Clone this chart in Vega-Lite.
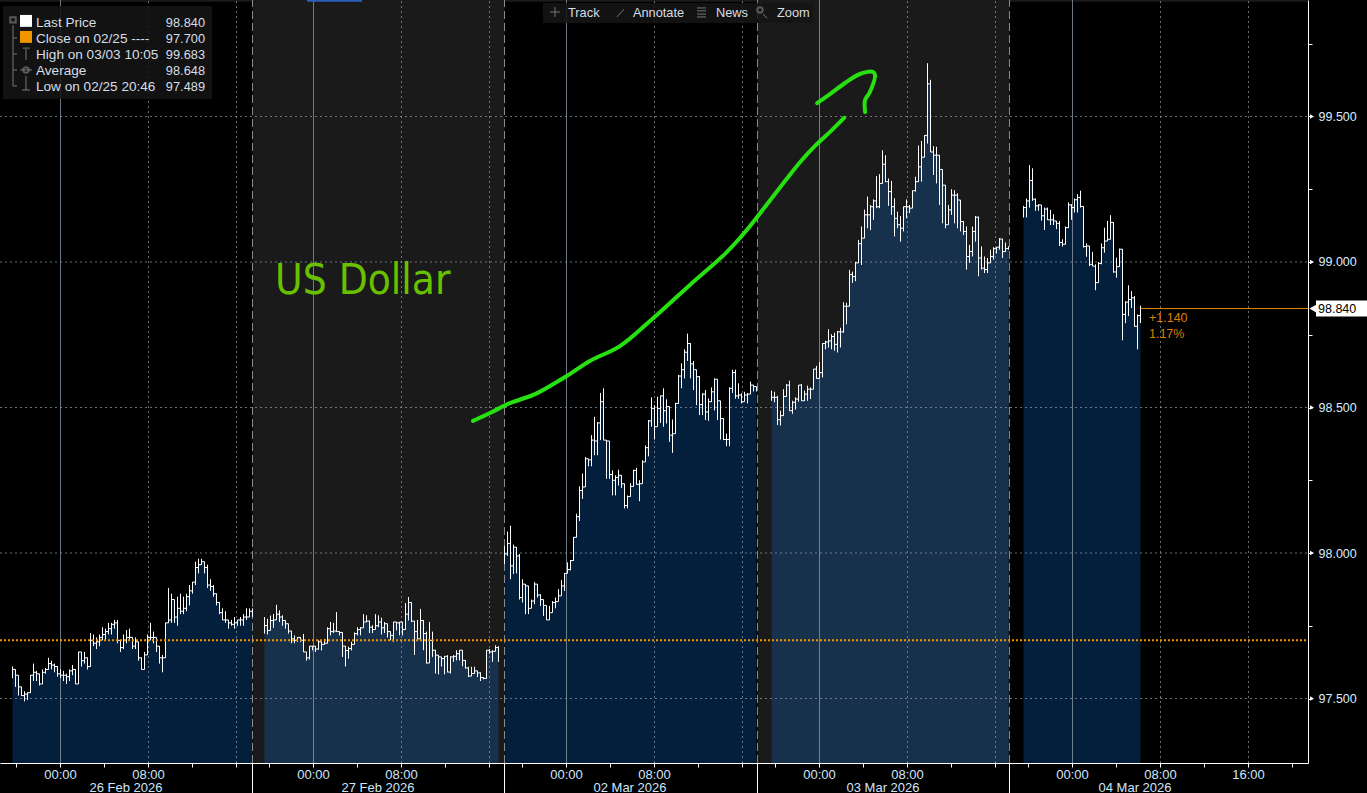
{"$schema":"https://vega.github.io/schema/vega-lite/v6.json","width":1308,"height":763,"autosize":{"type":"none"},"padding":{"left":0,"top":0,"right":59,"bottom":30},"background":"#000000","config":{"view":{"stroke":null},"text":{"font":"Liberation Sans","fontSize":12.5,"baseline":"middle"}},
"datasets":{"bars":[
{"k":-16,"hi":97.61,"lo":97.57,"p":97.6,"s":"a"},{"k":-15,"hi":97.58,"lo":97.54,"p":97.58,"s":"a"},{"k":-14,"hi":97.56,"lo":97.51,"p":97.54,"s":"a"},{"k":-13,"hi":97.53,"lo":97.51,"p":97.51,"s":"a"},{"k":-12,"hi":97.525,"lo":97.49,"p":97.515,"s":"a"},{"k":-11,"hi":97.52,"lo":97.495,"p":97.52,"s":"a"},{"k":-10,"hi":97.58,"lo":97.52,"p":97.58,"s":"a"},{"k":-9,"hi":97.62,"lo":97.56,"p":97.59,"s":"a"},{"k":-8,"hi":97.595,"lo":97.56,"p":97.585,"s":"a"},{"k":-7,"hi":97.58,"lo":97.545,"p":97.55,"s":"a"},{"k":-6,"hi":97.6,"lo":97.55,"p":97.59,"s":"a"},{"k":-5,"hi":97.605,"lo":97.585,"p":97.6,"s":"a"},{"k":-4,"hi":97.64,"lo":97.6,"p":97.62,"s":"a"},{"k":-3,"hi":97.63,"lo":97.6,"p":97.615,"s":"a"},{"k":-2,"hi":97.62,"lo":97.59,"p":97.61,"s":"a"},{"k":-1,"hi":97.61,"lo":97.575,"p":97.585,"s":"a"},{"k":0,"hi":97.6,"lo":97.57,"p":97.58,"s":"a"},{"k":1,"hi":97.595,"lo":97.56,"p":97.58,"s":"a"},{"k":2,"hi":97.585,"lo":97.55,"p":97.575,"s":"a"},{"k":3,"hi":97.6,"lo":97.56,"p":97.595,"s":"a"},{"k":4,"hi":97.615,"lo":97.58,"p":97.6,"s":"a"},{"k":5,"hi":97.6,"lo":97.55,"p":97.55,"s":"a"},{"k":6,"hi":97.66,"lo":97.55,"p":97.66,"s":"a"},{"k":7,"hi":97.655,"lo":97.61,"p":97.63,"s":"a"},{"k":8,"hi":97.66,"lo":97.62,"p":97.64,"s":"a"},{"k":9,"hi":97.64,"lo":97.6,"p":97.61,"s":"a"},{"k":10,"hi":97.725,"lo":97.61,"p":97.7,"s":"a"},{"k":11,"hi":97.72,"lo":97.68,"p":97.69,"s":"a"},{"k":12,"hi":97.71,"lo":97.67,"p":97.695,"s":"a"},{"k":13,"hi":97.72,"lo":97.68,"p":97.71,"s":"a"},{"k":14,"hi":97.745,"lo":97.7,"p":97.72,"s":"a"},{"k":15,"hi":97.74,"lo":97.7,"p":97.73,"s":"a"},{"k":16,"hi":97.76,"lo":97.72,"p":97.74,"s":"a"},{"k":17,"hi":97.76,"lo":97.72,"p":97.755,"s":"a"},{"k":18,"hi":97.77,"lo":97.74,"p":97.76,"s":"a"},{"k":19,"hi":97.77,"lo":97.69,"p":97.7,"s":"a"},{"k":20,"hi":97.69,"lo":97.66,"p":97.675,"s":"a"},{"k":21,"hi":97.72,"lo":97.67,"p":97.7,"s":"a"},{"k":22,"hi":97.735,"lo":97.69,"p":97.71,"s":"a"},{"k":23,"hi":97.74,"lo":97.7,"p":97.71,"s":"a"},{"k":24,"hi":97.71,"lo":97.67,"p":97.68,"s":"a"},{"k":25,"hi":97.71,"lo":97.67,"p":97.695,"s":"a"},{"k":26,"hi":97.69,"lo":97.63,"p":97.64,"s":"a"},{"k":27,"hi":97.64,"lo":97.6,"p":97.6,"s":"a"},{"k":28,"hi":97.66,"lo":97.61,"p":97.65,"s":"a"},{"k":29,"hi":97.72,"lo":97.65,"p":97.71,"s":"a"},{"k":30,"hi":97.76,"lo":97.7,"p":97.71,"s":"a"},{"k":31,"hi":97.73,"lo":97.69,"p":97.71,"s":"a"},{"k":32,"hi":97.7,"lo":97.66,"p":97.68,"s":"a"},{"k":33,"hi":97.68,"lo":97.62,"p":97.64,"s":"a"},{"k":34,"hi":97.65,"lo":97.59,"p":97.64,"s":"a"},{"k":35,"hi":97.76,"lo":97.64,"p":97.76,"s":"a"},{"k":36,"hi":97.88,"lo":97.76,"p":97.77,"s":"a"},{"k":37,"hi":97.86,"lo":97.76,"p":97.84,"s":"a"},{"k":38,"hi":97.82,"lo":97.76,"p":97.78,"s":"a"},{"k":39,"hi":97.85,"lo":97.75,"p":97.81,"s":"a"},{"k":40,"hi":97.86,"lo":97.79,"p":97.8,"s":"a"},{"k":41,"hi":97.85,"lo":97.79,"p":97.81,"s":"a"},{"k":42,"hi":97.86,"lo":97.8,"p":97.85,"s":"a"},{"k":43,"hi":97.89,"lo":97.82,"p":97.87,"s":"a"},{"k":44,"hi":97.9,"lo":97.86,"p":97.9,"s":"a"},{"k":45,"hi":97.97,"lo":97.89,"p":97.95,"s":"a"},{"k":46,"hi":97.98,"lo":97.93,"p":97.96,"s":"a"},{"k":47,"hi":97.98,"lo":97.96,"p":97.97,"s":"a"},{"k":48,"hi":97.97,"lo":97.93,"p":97.95,"s":"a"},{"k":49,"hi":97.96,"lo":97.88,"p":97.89,"s":"a"},{"k":50,"hi":97.91,"lo":97.87,"p":97.885,"s":"a"},{"k":51,"hi":97.89,"lo":97.85,"p":97.86,"s":"a"},{"k":52,"hi":97.86,"lo":97.82,"p":97.83,"s":"a"},{"k":53,"hi":97.83,"lo":97.79,"p":97.795,"s":"a"},{"k":54,"hi":97.81,"lo":97.77,"p":97.77,"s":"a"},{"k":55,"hi":97.8,"lo":97.76,"p":97.77,"s":"a"},{"k":56,"hi":97.77,"lo":97.74,"p":97.76,"s":"a"},{"k":57,"hi":97.77,"lo":97.75,"p":97.755,"s":"a"},{"k":58,"hi":97.78,"lo":97.74,"p":97.76,"s":"a"},{"k":59,"hi":97.77,"lo":97.75,"p":97.77,"s":"a"},{"k":60,"hi":97.78,"lo":97.75,"p":97.77,"s":"a"},{"k":61,"hi":97.79,"lo":97.75,"p":97.78,"s":"a"},{"k":62,"hi":97.81,"lo":97.77,"p":97.78,"s":"a"},{"k":63,"hi":97.81,"lo":97.78,"p":97.8,"s":"a"},{"k":64,"hi":97.81,"lo":97.78,"p":97.8,"s":"a"},
{"k":68,"hi":97.78,"lo":97.723,"p":97.751,"s":"b"},{"k":69,"hi":97.774,"lo":97.72,"p":97.734,"s":"b"},{"k":70,"hi":97.785,"lo":97.74,"p":97.768,"s":"b"},{"k":71,"hi":97.79,"lo":97.743,"p":97.77,"s":"b"},{"k":72,"hi":97.822,"lo":97.77,"p":97.79,"s":"b"},{"k":73,"hi":97.803,"lo":97.763,"p":97.78,"s":"b"},{"k":74,"hi":97.786,"lo":97.75,"p":97.768,"s":"b"},{"k":75,"hi":97.768,"lo":97.74,"p":97.757,"s":"b"},{"k":76,"hi":97.75,"lo":97.723,"p":97.732,"s":"b"},{"k":77,"hi":97.732,"lo":97.69,"p":97.705,"s":"b"},{"k":78,"hi":97.717,"lo":97.69,"p":97.7,"s":"b"},{"k":79,"hi":97.71,"lo":97.695,"p":97.71,"s":"b"},{"k":80,"hi":97.71,"lo":97.695,"p":97.7,"s":"b"},{"k":81,"hi":97.722,"lo":97.66,"p":97.66,"s":"b"},{"k":82,"hi":97.66,"lo":97.63,"p":97.64,"s":"b"},{"k":83,"hi":97.68,"lo":97.634,"p":97.68,"s":"b"},{"k":84,"hi":97.68,"lo":97.665,"p":97.68,"s":"b"},{"k":85,"hi":97.68,"lo":97.66,"p":97.67,"s":"b"},{"k":86,"hi":97.7,"lo":97.668,"p":97.695,"s":"b"},{"k":87,"hi":97.695,"lo":97.665,"p":97.686,"s":"b"},{"k":88,"hi":97.705,"lo":97.686,"p":97.69,"s":"b"},{"k":89,"hi":97.745,"lo":97.69,"p":97.74,"s":"b"},{"k":90,"hi":97.763,"lo":97.717,"p":97.73,"s":"b"},{"k":91,"hi":97.76,"lo":97.725,"p":97.732,"s":"b"},{"k":92,"hi":97.797,"lo":97.73,"p":97.73,"s":"b"},{"k":93,"hi":97.73,"lo":97.717,"p":97.727,"s":"b"},{"k":94,"hi":97.727,"lo":97.643,"p":97.68,"s":"b"},{"k":95,"hi":97.68,"lo":97.61,"p":97.665,"s":"b"},{"k":96,"hi":97.678,"lo":97.637,"p":97.672,"s":"b"},{"k":97,"hi":97.695,"lo":97.665,"p":97.686,"s":"b"},{"k":98,"hi":97.727,"lo":97.7,"p":97.723,"s":"b"},{"k":99,"hi":97.745,"lo":97.717,"p":97.737,"s":"b"},{"k":100,"hi":97.745,"lo":97.717,"p":97.743,"s":"b"},{"k":101,"hi":97.79,"lo":97.76,"p":97.763,"s":"b"},{"k":102,"hi":97.786,"lo":97.763,"p":97.766,"s":"b"},{"k":103,"hi":97.768,"lo":97.725,"p":97.745,"s":"b"},{"k":104,"hi":97.752,"lo":97.725,"p":97.737,"s":"b"},{"k":105,"hi":97.79,"lo":97.745,"p":97.75,"s":"b"},{"k":106,"hi":97.786,"lo":97.745,"p":97.763,"s":"b"},{"k":107,"hi":97.778,"lo":97.72,"p":97.743,"s":"b"},{"k":108,"hi":97.763,"lo":97.725,"p":97.757,"s":"b"},{"k":109,"hi":97.748,"lo":97.71,"p":97.73,"s":"b"},{"k":110,"hi":97.73,"lo":97.7,"p":97.717,"s":"b"},{"k":111,"hi":97.763,"lo":97.695,"p":97.763,"s":"b"},{"k":112,"hi":97.763,"lo":97.734,"p":97.76,"s":"b"},{"k":113,"hi":97.763,"lo":97.717,"p":97.763,"s":"b"},{"k":114,"hi":97.763,"lo":97.717,"p":97.737,"s":"b"},{"k":115,"hi":97.828,"lo":97.737,"p":97.79,"s":"b"},{"k":116,"hi":97.849,"lo":97.768,"p":97.83,"s":"b"},{"k":117,"hi":97.78,"lo":97.763,"p":97.766,"s":"b"},{"k":118,"hi":97.763,"lo":97.65,"p":97.73,"s":"b"},{"k":119,"hi":97.77,"lo":97.705,"p":97.705,"s":"b"},{"k":120,"hi":97.808,"lo":97.706,"p":97.768,"s":"b"},{"k":121,"hi":97.768,"lo":97.666,"p":97.723,"s":"b"},{"k":122,"hi":97.73,"lo":97.62,"p":97.622,"s":"b"},{"k":123,"hi":97.763,"lo":97.625,"p":97.7,"s":"b"},{"k":124,"hi":97.73,"lo":97.643,"p":97.666,"s":"b"},{"k":125,"hi":97.666,"lo":97.586,"p":97.649,"s":"b"},{"k":126,"hi":97.649,"lo":97.583,"p":97.643,"s":"b"},{"k":127,"hi":97.643,"lo":97.61,"p":97.637,"s":"b"},{"k":128,"hi":97.645,"lo":97.583,"p":97.645,"s":"b"},{"k":129,"hi":97.649,"lo":97.59,"p":97.591,"s":"b"},{"k":130,"hi":97.645,"lo":97.586,"p":97.643,"s":"b"},{"k":131,"hi":97.649,"lo":97.626,"p":97.645,"s":"b"},{"k":132,"hi":97.666,"lo":97.631,"p":97.654,"s":"b"},{"k":133,"hi":97.666,"lo":97.631,"p":97.666,"s":"b"},{"k":134,"hi":97.666,"lo":97.611,"p":97.631,"s":"b"},{"k":135,"hi":97.631,"lo":97.603,"p":97.605,"s":"b"},{"k":136,"hi":97.609,"lo":97.574,"p":97.577,"s":"b"},{"k":137,"hi":97.609,"lo":97.586,"p":97.586,"s":"b"},{"k":138,"hi":97.609,"lo":97.586,"p":97.595,"s":"b"},{"k":139,"hi":97.591,"lo":97.574,"p":97.588,"s":"b"},{"k":140,"hi":97.59,"lo":97.56,"p":97.572,"s":"b"},{"k":141,"hi":97.574,"lo":97.566,"p":97.569,"s":"b"},{"k":142,"hi":97.666,"lo":97.569,"p":97.666,"s":"b"},{"k":143,"hi":97.67,"lo":97.654,"p":97.66,"s":"b"},{"k":144,"hi":97.666,"lo":97.626,"p":97.662,"s":"b"},{"k":145,"hi":97.683,"lo":97.666,"p":97.675,"s":"b"},{"k":146,"hi":97.68,"lo":97.626,"p":97.671,"s":"b"},
{"k":148,"hi":98.025,"lo":97.962,"p":97.997,"s":"c"},{"k":149,"hi":98.074,"lo":97.99,"p":98.033,"s":"c"},{"k":150,"hi":98.094,"lo":97.91,"p":97.956,"s":"c"},{"k":151,"hi":98.029,"lo":97.928,"p":98.02,"s":"c"},{"k":152,"hi":98.02,"lo":97.93,"p":97.99,"s":"c"},{"k":153,"hi":97.997,"lo":97.84,"p":97.847,"s":"c"},{"k":154,"hi":97.91,"lo":97.83,"p":97.893,"s":"c"},{"k":155,"hi":97.893,"lo":97.79,"p":97.887,"s":"c"},{"k":156,"hi":97.847,"lo":97.79,"p":97.81,"s":"c"},{"k":157,"hi":97.84,"lo":97.82,"p":97.835,"s":"c"},{"k":158,"hi":97.9,"lo":97.824,"p":97.893,"s":"c"},{"k":159,"hi":97.893,"lo":97.847,"p":97.856,"s":"c"},{"k":160,"hi":97.858,"lo":97.818,"p":97.84,"s":"c"},{"k":161,"hi":97.82,"lo":97.784,"p":97.82,"s":"c"},{"k":162,"hi":97.8,"lo":97.77,"p":97.77,"s":"c"},{"k":163,"hi":97.818,"lo":97.77,"p":97.795,"s":"c"},{"k":164,"hi":97.835,"lo":97.81,"p":97.83,"s":"c"},{"k":165,"hi":97.847,"lo":97.81,"p":97.833,"s":"c"},{"k":166,"hi":97.876,"lo":97.847,"p":97.853,"s":"c"},{"k":167,"hi":97.907,"lo":97.87,"p":97.887,"s":"c"},{"k":168,"hi":97.93,"lo":97.87,"p":97.93,"s":"c"},{"k":169,"hi":97.968,"lo":97.943,"p":97.943,"s":"c"},{"k":170,"hi":97.976,"lo":97.94,"p":97.974,"s":"c"},{"k":171,"hi":98.054,"lo":97.974,"p":98.054,"s":"c"},{"k":172,"hi":98.135,"lo":98.054,"p":98.125,"s":"c"},{"k":173,"hi":98.229,"lo":98.11,"p":98.215,"s":"c"},{"k":174,"hi":98.273,"lo":98.186,"p":98.227,"s":"c"},{"k":175,"hi":98.33,"lo":98.227,"p":98.324,"s":"c"},{"k":176,"hi":98.32,"lo":98.298,"p":98.32,"s":"c"},{"k":177,"hi":98.405,"lo":98.298,"p":98.388,"s":"c"},{"k":178,"hi":98.468,"lo":98.336,"p":98.385,"s":"c"},{"k":179,"hi":98.45,"lo":98.336,"p":98.447,"s":"c"},{"k":180,"hi":98.55,"lo":98.388,"p":98.52,"s":"c"},{"k":181,"hi":98.566,"lo":98.388,"p":98.388,"s":"c"},{"k":182,"hi":98.388,"lo":98.255,"p":98.385,"s":"c"},{"k":183,"hi":98.284,"lo":98.255,"p":98.27,"s":"c"},{"k":184,"hi":98.284,"lo":98.198,"p":98.25,"s":"c"},{"k":185,"hi":98.267,"lo":98.198,"p":98.26,"s":"c"},{"k":186,"hi":98.286,"lo":98.232,"p":98.267,"s":"c"},{"k":187,"hi":98.267,"lo":98.224,"p":98.238,"s":"c"},{"k":188,"hi":98.238,"lo":98.153,"p":98.163,"s":"c"},{"k":189,"hi":98.198,"lo":98.153,"p":98.194,"s":"c"},{"k":190,"hi":98.24,"lo":98.198,"p":98.229,"s":"c"},{"k":191,"hi":98.286,"lo":98.229,"p":98.284,"s":"c"},{"k":192,"hi":98.293,"lo":98.236,"p":98.236,"s":"c"},{"k":193,"hi":98.25,"lo":98.178,"p":98.238,"s":"c"},{"k":194,"hi":98.319,"lo":98.244,"p":98.313,"s":"c"},{"k":195,"hi":98.37,"lo":98.313,"p":98.362,"s":"c"},{"k":196,"hi":98.457,"lo":98.332,"p":98.454,"s":"c"},{"k":197,"hi":98.535,"lo":98.434,"p":98.497,"s":"c"},{"k":198,"hi":98.508,"lo":98.39,"p":98.434,"s":"c"},{"k":199,"hi":98.537,"lo":98.445,"p":98.497,"s":"c"},{"k":200,"hi":98.54,"lo":98.447,"p":98.54,"s":"c"},{"k":201,"hi":98.566,"lo":98.434,"p":98.489,"s":"c"},{"k":202,"hi":98.528,"lo":98.445,"p":98.503,"s":"c"},{"k":203,"hi":98.503,"lo":98.382,"p":98.405,"s":"c"},{"k":204,"hi":98.459,"lo":98.344,"p":98.41,"s":"c"},{"k":205,"hi":98.516,"lo":98.416,"p":98.514,"s":"c"},{"k":206,"hi":98.612,"lo":98.514,"p":98.608,"s":"c"},{"k":207,"hi":98.652,"lo":98.566,"p":98.63,"s":"c"},{"k":208,"hi":98.7,"lo":98.6,"p":98.69,"s":"c"},{"k":209,"hi":98.754,"lo":98.66,"p":98.72,"s":"c"},{"k":210,"hi":98.72,"lo":98.6,"p":98.65,"s":"c"},{"k":211,"hi":98.66,"lo":98.56,"p":98.63,"s":"c"},{"k":212,"hi":98.608,"lo":98.508,"p":98.606,"s":"c"},{"k":213,"hi":98.608,"lo":98.474,"p":98.51,"s":"c"},{"k":214,"hi":98.549,"lo":98.474,"p":98.546,"s":"c"},{"k":215,"hi":98.56,"lo":98.457,"p":98.485,"s":"c"},{"k":216,"hi":98.531,"lo":98.454,"p":98.52,"s":"c"},{"k":217,"hi":98.569,"lo":98.52,"p":98.554,"s":"c"},{"k":218,"hi":98.6,"lo":98.49,"p":98.597,"s":"c"},{"k":219,"hi":98.525,"lo":98.457,"p":98.523,"s":"c"},{"k":220,"hi":98.468,"lo":98.39,"p":98.462,"s":"c"},{"k":221,"hi":98.462,"lo":98.388,"p":98.39,"s":"c"},{"k":222,"hi":98.41,"lo":98.367,"p":98.39,"s":"c"},{"k":223,"hi":98.569,"lo":98.367,"p":98.566,"s":"c"},{"k":224,"hi":98.63,"lo":98.55,"p":98.62,"s":"c"},{"k":225,"hi":98.63,"lo":98.53,"p":98.54,"s":"c"},{"k":226,"hi":98.583,"lo":98.53,"p":98.543,"s":"c"},{"k":227,"hi":98.549,"lo":98.514,"p":98.52,"s":"c"},{"k":228,"hi":98.554,"lo":98.525,"p":98.543,"s":"c"},{"k":229,"hi":98.55,"lo":98.514,"p":98.546,"s":"c"},{"k":230,"hi":98.589,"lo":98.558,"p":98.577,"s":"c"},{"k":231,"hi":98.572,"lo":98.555,"p":98.572,"s":"c"},{"k":232,"hi":98.571,"lo":98.555,"p":98.562,"s":"c"},
{"k":237,"hi":98.558,"lo":98.523,"p":98.535,"s":"d"},{"k":238,"hi":98.554,"lo":98.518,"p":98.535,"s":"d"},{"k":239,"hi":98.54,"lo":98.44,"p":98.458,"s":"d"},{"k":240,"hi":98.489,"lo":98.438,"p":98.472,"s":"d"},{"k":241,"hi":98.563,"lo":98.472,"p":98.538,"s":"d"},{"k":242,"hi":98.58,"lo":98.538,"p":98.577,"s":"d"},{"k":243,"hi":98.592,"lo":98.489,"p":98.489,"s":"d"},{"k":244,"hi":98.523,"lo":98.478,"p":98.518,"s":"d"},{"k":245,"hi":98.535,"lo":98.493,"p":98.529,"s":"d"},{"k":246,"hi":98.577,"lo":98.52,"p":98.577,"s":"d"},{"k":247,"hi":98.581,"lo":98.523,"p":98.523,"s":"d"},{"k":248,"hi":98.558,"lo":98.523,"p":98.546,"s":"d"},{"k":249,"hi":98.575,"lo":98.523,"p":98.563,"s":"d"},{"k":250,"hi":98.569,"lo":98.529,"p":98.563,"s":"d"},{"k":251,"hi":98.632,"lo":98.563,"p":98.632,"s":"d"},{"k":252,"hi":98.643,"lo":98.6,"p":98.6,"s":"d"},{"k":253,"hi":98.656,"lo":98.603,"p":98.62,"s":"d"},{"k":254,"hi":98.72,"lo":98.603,"p":98.72,"s":"d"},{"k":255,"hi":98.729,"lo":98.7,"p":98.725,"s":"d"},{"k":256,"hi":98.769,"lo":98.706,"p":98.729,"s":"d"},{"k":257,"hi":98.752,"lo":98.7,"p":98.744,"s":"d"},{"k":258,"hi":98.757,"lo":98.695,"p":98.717,"s":"d"},{"k":259,"hi":98.763,"lo":98.689,"p":98.76,"s":"d"},{"k":260,"hi":98.774,"lo":98.706,"p":98.76,"s":"d"},{"k":261,"hi":98.862,"lo":98.757,"p":98.848,"s":"d"},{"k":262,"hi":98.86,"lo":98.786,"p":98.848,"s":"d"},{"k":263,"hi":98.973,"lo":98.87,"p":98.957,"s":"d"},{"k":264,"hi":98.967,"lo":98.928,"p":98.95,"s":"d"},{"k":265,"hi":99.0,"lo":98.934,"p":98.997,"s":"d"},{"k":266,"hi":99.076,"lo":98.997,"p":99.063,"s":"d"},{"k":267,"hi":99.122,"lo":98.99,"p":99.082,"s":"d"},{"k":268,"hi":99.18,"lo":99.082,"p":99.162,"s":"d"},{"k":269,"hi":99.225,"lo":99.116,"p":99.162,"s":"d"},{"k":270,"hi":99.196,"lo":99.11,"p":99.19,"s":"d"},{"k":271,"hi":99.215,"lo":99.145,"p":99.21,"s":"d"},{"k":272,"hi":99.295,"lo":99.185,"p":99.19,"s":"d"},{"k":273,"hi":99.302,"lo":99.185,"p":99.27,"s":"d"},{"k":274,"hi":99.384,"lo":99.27,"p":99.336,"s":"d"},{"k":275,"hi":99.367,"lo":99.276,"p":99.276,"s":"d"},{"k":276,"hi":99.287,"lo":99.193,"p":99.242,"s":"d"},{"k":277,"hi":99.279,"lo":99.162,"p":99.19,"s":"d"},{"k":278,"hi":99.219,"lo":99.088,"p":99.15,"s":"d"},{"k":279,"hi":99.173,"lo":99.116,"p":99.128,"s":"d"},{"k":280,"hi":99.158,"lo":99.07,"p":99.116,"s":"d"},{"k":281,"hi":99.19,"lo":99.105,"p":99.19,"s":"d"},{"k":282,"hi":99.215,"lo":99.15,"p":99.19,"s":"d"},{"k":283,"hi":99.196,"lo":99.168,"p":99.185,"s":"d"},{"k":284,"hi":99.245,"lo":99.19,"p":99.245,"s":"d"},{"k":285,"hi":99.293,"lo":99.242,"p":99.276,"s":"d"},{"k":286,"hi":99.4,"lo":99.276,"p":99.327,"s":"d"},{"k":287,"hi":99.416,"lo":99.276,"p":99.36,"s":"d"},{"k":288,"hi":99.435,"lo":99.36,"p":99.435,"s":"d"},{"k":289,"hi":99.683,"lo":99.407,"p":99.612,"s":"d"},{"k":290,"hi":99.626,"lo":99.378,"p":99.378,"s":"d"},{"k":291,"hi":99.398,"lo":99.299,"p":99.367,"s":"d"},{"k":292,"hi":99.396,"lo":99.27,"p":99.367,"s":"d"},{"k":293,"hi":99.321,"lo":99.196,"p":99.318,"s":"d"},{"k":294,"hi":99.316,"lo":99.133,"p":99.264,"s":"d"},{"k":295,"hi":99.236,"lo":99.116,"p":99.128,"s":"d"},{"k":296,"hi":99.196,"lo":99.168,"p":99.179,"s":"d"},{"k":297,"hi":99.25,"lo":99.162,"p":99.23,"s":"d"},{"k":298,"hi":99.247,"lo":99.133,"p":99.23,"s":"d"},{"k":299,"hi":99.236,"lo":99.116,"p":99.213,"s":"d"},{"k":300,"hi":99.15,"lo":99.105,"p":99.139,"s":"d"},{"k":301,"hi":99.139,"lo":99.093,"p":99.105,"s":"d"},{"k":302,"hi":99.122,"lo":98.974,"p":99.019,"s":"d"},{"k":303,"hi":99.059,"lo":98.997,"p":99.036,"s":"d"},{"k":304,"hi":99.122,"lo":99.019,"p":99.105,"s":"d"},{"k":305,"hi":99.158,"lo":99.07,"p":99.154,"s":"d"},{"k":306,"hi":99.156,"lo":98.951,"p":99.014,"s":"d"},{"k":307,"hi":99.054,"lo":98.974,"p":98.979,"s":"d"},{"k":308,"hi":99.019,"lo":98.962,"p":98.974,"s":"d"},{"k":309,"hi":99.014,"lo":98.962,"p":98.997,"s":"d"},{"k":310,"hi":99.042,"lo":99.008,"p":99.019,"s":"d"},{"k":311,"hi":99.051,"lo":99.008,"p":99.046,"s":"d"},{"k":312,"hi":99.051,"lo":99.029,"p":99.051,"s":"d"},{"k":313,"hi":99.082,"lo":99.042,"p":99.079,"s":"d"},{"k":314,"hi":99.079,"lo":99.014,"p":99.036,"s":"d"},{"k":315,"hi":99.067,"lo":99.036,"p":99.046,"s":"d"},{"k":316,"hi":99.054,"lo":99.042,"p":99.048,"s":"d"},
{"k":321,"hi":99.193,"lo":99.153,"p":99.187,"s":"e"},{"k":322,"hi":99.218,"lo":99.153,"p":99.21,"s":"e"},{"k":323,"hi":99.333,"lo":99.187,"p":99.28,"s":"e"},{"k":324,"hi":99.322,"lo":99.21,"p":99.216,"s":"e"},{"k":325,"hi":99.218,"lo":99.176,"p":99.193,"s":"e"},{"k":326,"hi":99.199,"lo":99.176,"p":99.196,"s":"e"},{"k":327,"hi":99.193,"lo":99.142,"p":99.159,"s":"e"},{"k":328,"hi":99.187,"lo":99.11,"p":99.182,"s":"e"},{"k":329,"hi":99.187,"lo":99.145,"p":99.145,"s":"e"},{"k":330,"hi":99.179,"lo":99.127,"p":99.145,"s":"e"},{"k":331,"hi":99.164,"lo":99.127,"p":99.141,"s":"e"},{"k":332,"hi":99.141,"lo":99.113,"p":99.133,"s":"e"},{"k":333,"hi":99.141,"lo":99.055,"p":99.067,"s":"e"},{"k":334,"hi":99.078,"lo":99.053,"p":99.061,"s":"e"},{"k":335,"hi":99.122,"lo":99.061,"p":99.118,"s":"e"},{"k":336,"hi":99.205,"lo":99.118,"p":99.196,"s":"e"},{"k":337,"hi":99.199,"lo":99.145,"p":99.187,"s":"e"},{"k":338,"hi":99.218,"lo":99.17,"p":99.214,"s":"e"},{"k":339,"hi":99.233,"lo":99.17,"p":99.222,"s":"e"},{"k":340,"hi":99.245,"lo":99.187,"p":99.191,"s":"e"},{"k":341,"hi":99.184,"lo":99.05,"p":99.053,"s":"e"},{"k":342,"hi":99.064,"lo":99.018,"p":99.055,"s":"e"},{"k":343,"hi":99.035,"lo":98.986,"p":98.992,"s":"e"},{"k":344,"hi":99.035,"lo":98.986,"p":98.986,"s":"e"},{"k":345,"hi":98.992,"lo":98.903,"p":98.929,"s":"e"},{"k":346,"hi":99.0,"lo":98.931,"p":98.995,"s":"e"},{"k":347,"hi":99.064,"lo":98.992,"p":99.049,"s":"e"},{"k":348,"hi":99.118,"lo":99.032,"p":99.072,"s":"e"},{"k":349,"hi":99.141,"lo":99.072,"p":99.078,"s":"e"},{"k":350,"hi":99.161,"lo":99.078,"p":99.136,"s":"e"},{"k":351,"hi":99.136,"lo":98.963,"p":98.966,"s":"e"},{"k":352,"hi":99.015,"lo":98.946,"p":98.984,"s":"e"},{"k":353,"hi":99.046,"lo":98.984,"p":99.044,"s":"e"},{"k":354,"hi":99.044,"lo":98.731,"p":98.82,"s":"e"},{"k":355,"hi":98.865,"lo":98.79,"p":98.862,"s":"e"},{"k":356,"hi":98.92,"lo":98.814,"p":98.871,"s":"e"},{"k":357,"hi":98.9,"lo":98.842,"p":98.877,"s":"e"},{"k":358,"hi":98.883,"lo":98.779,"p":98.779,"s":"e"},{"k":359,"hi":98.82,"lo":98.7,"p":98.816,"s":"e"},{"k":360,"hi":98.85,"lo":98.79,"p":98.84,"s":"e"}
],
"solid":[{"k":0,"p":97.2784,"p2":99.9003},{"k":84.33,"p":97.2784,"p2":99.9003},{"k":168.67,"p":97.2784,"p2":99.9003},{"k":253,"p":97.2784,"p2":99.9003},{"k":337.33,"p":97.2784,"p2":99.9003}],
"dash":[{"k":29.33,"p":97.2784,"p2":99.9003},{"k":58.67,"p":97.2784,"p2":99.9003},{"k":113.67,"p":97.2784,"p2":99.9003},{"k":143,"p":97.2784,"p2":99.9003},{"k":198,"p":97.2784,"p2":99.9003},{"k":227.33,"p":97.2784,"p2":99.9003},{"k":282.33,"p":97.2784,"p2":99.9003},{"k":311.67,"p":97.2784,"p2":99.9003},{"k":366.67,"p":97.2784,"p2":99.9003},{"k":396,"p":97.2784,"p2":99.9003}],
"hgrid":[{"p":97.5,"k":-20.1667,"k2":415.8333},{"p":98,"k":-20.1667,"k2":415.8333},{"p":98.5,"k":-20.1667,"k2":415.8333},{"p":99,"k":-20.1667,"k2":415.8333},{"p":99.5,"k":-20.1667,"k2":415.8333}],
"bound":[{"k":64,"p":97.2784,"p2":99.9003},{"k":148,"p":97.2784,"p2":99.9003},{"k":232.33,"p":97.2784,"p2":99.9003},{"k":316.33,"p":97.2784,"p2":99.9003}],
"segs":[{"k":-15.83,"k2":-15.83,"p":99.814,"p2":99.605},{"k":-15.83,"k2":-14.5,"p":99.77,"p2":99.77},{"k":-15.83,"k2":-14.5,"p":99.715,"p2":99.715},{"k":-15.83,"k2":-14.5,"p":99.66,"p2":99.66},{"k":-15.83,"k2":-14.5,"p":99.605,"p2":99.605},{"k":-11.5,"k2":-11.5,"p":99.732,"p2":99.694},{"k":-12.5,"k2":-10.17,"p":99.735,"p2":99.735},{"k":-13.5,"k2":-9.5,"p":99.66,"p2":99.66},{"k":-11.5,"k2":-11.5,"p":99.639,"p2":99.591},{"k":-12.83,"k2":-10.17,"p":99.591,"p2":99.591},{"k":163.17,"k2":166.5,"p":99.859,"p2":99.859},{"k":164.83,"k2":164.83,"p":99.876,"p2":99.842},{"k":185.5,"k2":187.83,"p":99.842,"p2":99.869},{"k":212.17,"k2":215.17,"p":99.873,"p2":99.873},{"k":212.17,"k2":215.17,"p":99.863,"p2":99.863},{"k":212.17,"k2":215.17,"p":99.852,"p2":99.852},{"k":212.17,"k2":215.17,"p":99.842,"p2":99.842},{"k":234.17,"k2":235.5,"p":99.852,"p2":99.838}],
"green":[{"o":1,"k":137.5,"p":98.454,"g":"a"},{"o":2,"k":143.2,"p":98.481,"g":"a"},{"o":3,"k":149.8,"p":98.515,"g":"a"},{"o":4,"k":158.2,"p":98.546,"g":"a"},{"o":5,"k":168.2,"p":98.605,"g":"a"},{"o":6,"k":176.5,"p":98.66,"g":"a"},{"o":7,"k":186.5,"p":98.711,"g":"a"},{"o":8,"k":196.5,"p":98.797,"g":"a"},{"o":9,"k":209.8,"p":98.921,"g":"a"},{"o":10,"k":221.5,"p":99.028,"g":"a"},{"o":11,"k":228.2,"p":99.103,"g":"a"},{"o":12,"k":234.8,"p":99.189,"g":"a"},{"o":13,"k":241.5,"p":99.278,"g":"a"},{"o":14,"k":246.5,"p":99.343,"g":"a"},{"o":15,"k":251.5,"p":99.399,"g":"a"},{"o":16,"k":257.2,"p":99.454,"g":"a"},{"o":17,"k":261.2,"p":99.495,"g":"a"},{"o":1,"k":252.2,"p":99.546,"g":"b"},{"o":2,"k":256.5,"p":99.577,"g":"b"},{"o":3,"k":261.5,"p":99.615,"g":"b"},{"o":4,"k":266.5,"p":99.646,"g":"b"},{"o":5,"k":270.8,"p":99.653,"g":"b"},{"o":6,"k":271.5,"p":99.643,"g":"b"},{"o":7,"k":269.8,"p":99.584,"g":"b"},{"o":8,"k":268.2,"p":99.557,"g":"b"},{"o":9,"k":268.2,"p":99.515,"g":"b"}]
},
"layer":[
{"data":{"values":[{"k":64,"k2":148,"p":97.2784,"p2":99.9003},{"k":232.33,"k2":316.33,"p":97.2784,"p2":99.9003},{"k":-20.1667,"k2":415.8333,"p":99.894,"p2":99.9003}]},"mark":{"type":"rect","color":"#1a1a1a"},
"encoding":{"x":{"field":"k","type":"quantitative","scale":{"domain":[-20.1667,415.8333],"nice":false,"zero":false},"axis":{"title":null,"translate":0.5,"grid":false,"domainColor":"#ffffff","tickColor":"#ffffff","tickSize":4,"labelColor":"#cfe6fa","labelFont":"Liberation Sans","labelFontSize":13,"labelPadding":1,"labelAngle":0,"labelOverlap":false,"labelFlush":false,"values":[-14.83,-0.17,14.5,29.17,43.83,58.5,69.5,84.17,98.83,113.5,128.17,142.83,153.83,168.5,183.17,197.83,212.5,227.17,238.17,252.83,267.5,282.17,296.83,311.5,322.5,337.17,351.83,366.5,381.17,395.83,410.5],"labelExpr":"indexof([0,23,46,69,92],round(datum.value*3/11))>=0?'00:00':indexof([8,31,54,77,100],round(datum.value*3/11))>=0?'08:00':round(datum.value*3/11)==108?'16:00':''"}},"x2":{"field":"k2"},
"y":{"field":"p","type":"quantitative","scale":{"domain":[97.2784,99.9003],"nice":false,"zero":false},"axis":{"title":null,"orient":"right","translate":0.5,"grid":false,"domainColor":"#ffffff","tickColor":"#ffffff","tickSize":4,"labelColor":"#d8ecff","labelFont":"Liberation Sans","labelFontSize":12.5,"labelPadding":6,"labelOverlap":false,"labelFlush":false,"values":[97.5,97.75,98,98.25,98.5,98.75,99,99.25,99.5,99.75],"labelExpr":"(datum.value*2)%1==0?format(datum.value,'.3f'):''"}},"y2":{"field":"p2"}}},
{"data":{"name":"bars"},"mark":{"type":"area","interpolate":"step-after"},"encoding":{"x":{"field":"k","type":"quantitative"},"y":{"field":"p","type":"quantitative","stack":null},"detail":{"field":"s"},"color":{"field":"s","type":"nominal","legend":null,"scale":{"domain":["a","b","c","d","e"],"range":["#031f3b","#17304b","#031f3b","#17304b","#031f3b"]}}}},
{"data":{"name":"solid"},"mark":{"type":"rule","color":"#8a96a3","opacity":0.8,"strokeWidth":1},"encoding":{"x":{"field":"k","type":"quantitative"},"y":{"field":"p","type":"quantitative"},"y2":{"field":"p2"}}},
{"data":{"name":"dash"},"mark":{"type":"rule","color":"#8a96a3","opacity":0.75,"strokeWidth":1,"strokeDash":[2,3]},"encoding":{"x":{"field":"k","type":"quantitative"},"y":{"field":"p","type":"quantitative"},"y2":{"field":"p2"}}},
{"data":{"name":"hgrid"},"mark":{"type":"rule","color":"#8a96a3","opacity":0.75,"strokeWidth":1,"strokeDash":[2,3]},"encoding":{"x":{"field":"k","type":"quantitative"},"x2":{"field":"k2"},"y":{"field":"p","type":"quantitative"}}},
{"data":{"name":"bound"},"mark":{"type":"rule","color":"#8a8a8a","strokeWidth":1,"strokeDash":[8,4]},"encoding":{"x":{"field":"k","type":"quantitative"},"y":{"field":"p","type":"quantitative"},"y2":{"field":"p2"}}},
{"data":{"values":[{"k":64,"p":97.175,"p2":97.2784},{"k":148,"p":97.175,"p2":97.2784},{"k":232.33,"p":97.175,"p2":97.2784},{"k":316.33,"p":97.175,"p2":97.2784}]},"mark":{"type":"rule","color":"#ffffff","strokeWidth":1,"clip":false},"encoding":{"x":{"field":"k","type":"quantitative"},"y":{"field":"p","type":"quantitative"},"y2":{"field":"p2"}}},
{"data":{"name":"bars"},"mark":{"type":"rule","color":"#ffffff","strokeWidth":1},"encoding":{"x":{"field":"k","type":"quantitative"},"y":{"field":"hi","type":"quantitative"},"y2":{"field":"lo"}}},
{"data":{"name":"bars"},"mark":{"type":"line","interpolate":"step-after","color":"#ffffff","strokeWidth":1},"encoding":{"x":{"field":"k","type":"quantitative"},"y":{"field":"p","type":"quantitative"},"detail":{"field":"s"}}},
{"data":{"values":[{"p":97.7,"k":-20.1667,"k2":415.8333}]},"mark":{"type":"rule","color":"#f29400","strokeWidth":2,"strokeDash":[2,2]},"encoding":{"x":{"field":"k","type":"quantitative"},"x2":{"field":"k2"},"y":{"field":"p","type":"quantitative"}}},
{"data":{"values":[{"p":98.84,"k":360.17,"k2":415.8333}]},"mark":{"type":"rule","color":"#e58a00","strokeWidth":1},"encoding":{"x":{"field":"k","type":"quantitative"},"x2":{"field":"k2"},"y":{"field":"p","type":"quantitative"}}},
{"data":{"values":[{"k":-19.17,"k2":50.5,"p":99.56,"p2":99.88},{"k":160.83,"k2":250.83,"p":99.821,"p2":99.89}]},"mark":{"type":"rect","color":"#141414","opacity":0.88},"encoding":{"x":{"field":"k","type":"quantitative"},"x2":{"field":"k2"},"y":{"field":"p","type":"quantitative"},"y2":{"field":"p2"}}},
{"data":{"values":[{"k":82.17,"k2":100.5,"p":99.894,"p2":99.9003}]},"mark":{"type":"rect","color":"#2a5fc0"},"encoding":{"x":{"field":"k","type":"quantitative"},"x2":{"field":"k2"},"y":{"field":"p","type":"quantitative"},"y2":{"field":"p2"}}},
{"data":{"values":[{"k":-13.5,"k2":-9.5,"p":99.753,"p2":99.794}]},"mark":{"type":"rect","color":"#f29400"},"encoding":{"x":{"field":"k","type":"quantitative"},"x2":{"field":"k2"},"y":{"field":"p","type":"quantitative"},"y2":{"field":"p2"}}},
{"data":{"values":[{"k":-13.5,"k2":-9.5,"p":99.808,"p2":99.849},{"k":418.5,"k2":435.5,"p":98.8125,"p2":98.8675}]},"mark":{"type":"rect","color":"#ffffff"},"encoding":{"x":{"field":"k","type":"quantitative"},"x2":{"field":"k2"},"y":{"field":"p","type":"quantitative"},"y2":{"field":"p2"}}},
{"data":{"name":"segs"},"mark":{"type":"rule","color":"#777777","strokeWidth":1},"encoding":{"x":{"field":"k","type":"quantitative"},"x2":{"field":"k2"},"y":{"field":"p","type":"quantitative"},"y2":{"field":"p2"}}},
{"data":{"values":[{"k":-15.83,"p":99.832,"g":"square"},{"k":233.17,"p":99.866,"g":"circle"},{"k":-11.5,"p":99.66,"g":"circle"}]},"mark":{"type":"point","color":"#777777","filled":false,"size":30},"encoding":{"x":{"field":"k","type":"quantitative"},"y":{"field":"p","type":"quantitative"},"shape":{"field":"g","type":"nominal","legend":null,"scale":{"domain":["square","circle"],"range":["square","circle"]}}}},
{"data":{"values":[{"k":417.5,"p":98.84}]},"mark":{"type":"point","shape":"triangle-left","filled":true,"color":"#ffffff","size":70,"opacity":1},"encoding":{"x":{"field":"k","type":"quantitative"},"y":{"field":"p","type":"quantitative"}}},
{"data":{"values":[{"k":417.17,"p":97.5},{"k":417.17,"p":98},{"k":417.17,"p":98.5},{"k":417.17,"p":99},{"k":417.17,"p":99.5}]},"mark":{"type":"point","shape":"triangle-right","filled":true,"color":"#ffffff","size":22,"opacity":1},"encoding":{"x":{"field":"k","type":"quantitative"},"y":{"field":"p","type":"quantitative"}}},
{"data":{"name":"green"},"mark":{"type":"line","color":"#27e00f","strokeWidth":4,"interpolate":"catmull-rom","strokeCap":"round","strokeJoin":"round"},"encoding":{"x":{"field":"k","type":"quantitative"},"y":{"field":"p","type":"quantitative"},"detail":{"field":"g"},"order":{"field":"o","type":"quantitative"}}},
{"data":{"values":[{"k":-8.17,"p":99.822,"text":"Last Price"},{"k":-8.17,"p":99.767,"text":"Close on 02/25 ----"},{"k":-8.17,"p":99.712,"text":"High on 03/03 10:05"},{"k":-8.17,"p":99.657,"text":"Average"},{"k":-8.17,"p":99.602,"text":"Low on 02/25 20:46"}]},"mark":{"type":"text","align":"left","color":"#d5dee6","fontSize":13.6},"encoding":{"x":{"field":"k","type":"quantitative"},"y":{"field":"p","type":"quantitative"},"text":{"field":"text"}}},
{"data":{"values":[{"k":169.17,"p":99.857,"text":"Track"},{"k":190.8,"p":99.857,"text":"Annotate"},{"k":218.5,"p":99.857,"text":"News"},{"k":238.83,"p":99.857,"text":"Zoom"}]},"mark":{"type":"text","align":"left","color":"#d5dee6","fontSize":12.8},"encoding":{"x":{"field":"k","type":"quantitative"},"y":{"field":"p","type":"quantitative"},"text":{"field":"text"}}},
{"data":{"values":[{"k":48.17,"p":99.822,"text":"98.840"},{"k":48.17,"p":99.767,"text":"97.700"},{"k":48.17,"p":99.712,"text":"99.683"},{"k":48.17,"p":99.657,"text":"98.648"},{"k":48.17,"p":99.602,"text":"97.489"}]},"mark":{"type":"text","align":"right","color":"#d5dee6","fontSize":12.8},"encoding":{"x":{"field":"k","type":"quantitative"},"y":{"field":"p","type":"quantitative"},"text":{"field":"text"}}},
{"data":{"values":[{"k":21.83,"p":97.192,"text":"26 Feb 2026"},{"k":105.83,"p":97.192,"text":"27 Feb 2026"},{"k":189.83,"p":97.192,"text":"02 Mar 2026"},{"k":274.17,"p":97.192,"text":"03 Mar 2026"},{"k":358.17,"p":97.192,"text":"04 Mar 2026"}]},"mark":{"type":"text","align":"center","color":"#cfe6fa","fontSize":13},"encoding":{"x":{"field":"k","type":"quantitative"},"y":{"field":"p","type":"quantitative"},"text":{"field":"text"}}},
{"data":{"values":[{"k":362.83,"p":98.808,"text":"+1.140"},{"k":362.83,"p":98.753,"text":"1.17%"}]},"mark":{"type":"text","align":"left","color":"#d97f00"},"encoding":{"x":{"field":"k","type":"quantitative"},"y":{"field":"p","type":"quantitative"},"text":{"field":"text"}}},
{"data":{"values":[{"k":419.17,"p":98.84,"text":"98.840"}]},"mark":{"type":"text","align":"left","color":"#000000"},"encoding":{"x":{"field":"k","type":"quantitative"},"y":{"field":"p","type":"quantitative"},"text":{"field":"text"}}},
{"data":{"values":[{"k":71.5,"p":98.935,"text":"US Dollar"}]},"mark":{"type":"text","align":"left","color":"#68c000","font":"DejaVu Sans Condensed","fontSize":42},"encoding":{"x":{"field":"k","type":"quantitative"},"y":{"field":"p","type":"quantitative"},"text":{"field":"text"}}}
]}
